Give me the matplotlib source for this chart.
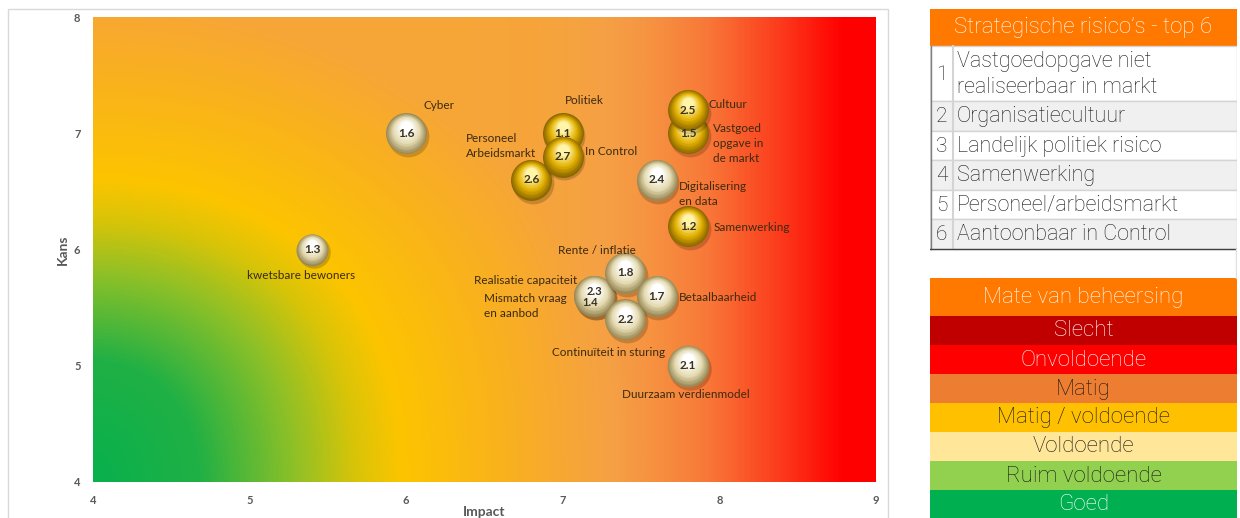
import matplotlib

matplotlib.use("Agg")
import matplotlib.pyplot as plt
import numpy as np
from matplotlib.colors import LinearSegmentedColormap, to_rgb
from matplotlib.patches import Rectangle
from matplotlib.transforms import offset_copy

# --- risk bubbles -----------------------------------------------------------
risk_ids = ["1.6", "1.3", "1.1", "2.6", "2.7", "1.5", "2.5", "2.4", "1.2",
            "2.3", "1.4", "1.8", "1.7", "2.2", "2.1"]
impact = [6.0, 5.4, 7.0, 6.8, 7.0, 7.8, 7.8, 7.6, 7.8, 7.2, 7.2, 7.4, 7.6, 7.4, 7.8]
kans = [7.0, 6.0, 7.0, 6.6, 6.8, 7.0, 7.2, 6.6, 6.2, 5.6, 5.6, 5.8, 5.6, 5.4, 5.0]
kind = ["cream", "cream", "gold", "gold", "gold", "gold", "gold", "cream", "gold",
        "cream", "cream", "cream", "cream", "cream", "cream"]
bubble_size = [870, 530, 870, 870, 870, 870, 870, 870, 870, 870, 870, 870, 870, 870, 900]

# label text and anchor (impact, kans, horizontal alignment)
labels = ["Cyber", "kwetsbare bewoners", "Politiek", "Personeel\nArbeidsmarkt", "In Control",
          "Cultuur", "Vastgoed\nopgave in\nde markt", "Digitalisering\nen data", "Samenwerking",
          "Rente / inflatie", "Realisatie capaciteit", "Mismatch vraag\nen aanbod",
          "Betaalbaarheid", "Continuïteit in sturing", "Duurzaam verdienmodel"]
label_x = [6.11, 5.33, 7.14, 6.38, 7.14, 7.93, 7.96, 7.74, 7.96, 7.22, 6.43, 6.50, 7.74, 6.93, 7.38]
label_y = [7.24, 5.78, 7.28, 6.89, 6.84, 7.25, 6.91, 6.48, 6.19, 5.99, 5.73, 5.51, 5.59, 5.11, 4.75]
label_ha = ["left", "center", "center", "left", "left", "left", "left", "left", "left",
            "center", "left", "left", "left", "left", "left"]

# --- side tables ------------------------------------------------------------
top_title = "Strategische risico’s - top 6"
top_rows = ["Vastgoedopgave niet\nrealiseerbaar in markt", "Organisatiecultuur",
            "Landelijk politiek risico", "Samenwerking", "Personeel/arbeidsmarkt",
            "Aantoonbaar in Control"]
scale_title = "Mate van beheersing"
scale_rows = ["Slecht", "Onvoldoende", "Matig", "Matig / voldoende", "Voldoende",
              "Ruim voldoende", "Goed"]
scale_colors = ["#c00000", "#ff0000", "#ed7d31", "#ffc000", "#ffe699", "#92d050", "#00b050"]
scale_text = ["white", "white", "#1a1a1a", "#1a1a1a", "#1a1a1a", "#1a1a1a", "white"]

ORANGE = "#ff7800"
LABEL_FONT = ["Lato", "DejaVu Sans"]
TABLE_FONT = ["Roboto", "DejaVu Sans"]

PALETTES = {
    "gold": ("#8c6800", "#e2b000", "#fff4a8"),
    "cream": ("#9a8a58", "#e4dab0", "#ffffff"),
}


def blend(c1, c2, t):
    a, b = np.array(to_rgb(c1)), np.array(to_rgb(c2))
    return tuple(a + (b - a) * min(t, 1.0))


def background(ax):
    xs = np.linspace(4, 9, 500)
    ys = np.linspace(4, 8, 400)
    X, Y = np.meshgrid(xs, ys)
    radial = 1.1 * np.sqrt(((X - 4) / 2.2) ** 2 + ((Y - 4) / 2.6) ** 2)
    radial = np.minimum(radial, 1.75)
    horiz = np.interp(X, [4, 6.0, 6.5, 7.0, 7.5, 8.0, 8.4, 8.8, 9],
                      [0, 1.0, 1.3, 1.65, 1.95, 2.35, 2.7, 3.0, 3.0])
    k = 6.0
    v = np.log(np.exp(k * radial) + np.exp(k * horiz)) / k
    v = np.clip(v, 0, 3) / 3.0
    stops = [(0.0, "#00b050"), (0.45, "#20b045"), (0.75, "#8cc028"), (0.95, "#d8c408"),
             (1.1, "#fdc400"), (1.5, "#f9b020"), (1.9, "#f5a045"), (2.3, "#f87838"),
             (2.7, "#fc3a1c"), (3.0, "#ff0000")]
    cmap = LinearSegmentedColormap.from_list("risk", [(p / 3.0, c) for p, c in stops])
    ax.imshow(cmap(v), extent=(4, 9, 4, 8), origin="lower", aspect="auto",
              interpolation="bilinear", zorder=0)


def sphere(ax, fig, x, y, size, palette, z):
    edge, mid, light = PALETTES[palette]
    r = np.sqrt(size) / 2
    ax.scatter([x], [y], s=size * 1.04, color="#000000", alpha=0.18, lw=0, zorder=z,
               transform=offset_copy(ax.transData, fig=fig, x=1.2, y=-2.0, units="points"))
    n = 14
    for i in range(n):
        t = i / (n - 1)
        f = 1 - 0.72 * t
        col = blend(edge, mid, t * 2.2) if t < 0.45 else blend(mid, light, (t - 0.45) / 0.55)
        ax.scatter([x], [y], s=size * f * f, color=col, lw=0, zorder=z,
                   transform=offset_copy(ax.transData, fig=fig, x=0, y=(1 - f) * r * 0.45,
                                         units="points"))


fig = plt.figure(figsize=(12.4, 5.18), dpi=100)
fig.patch.set_facecolor("white")

# faint frame around the chart object
fig.patches.append(Rectangle((8 / 1240, -0.1), 880 / 1240, 1.1 - 9 / 518, transform=fig.transFigure,
                             fill=False, edgecolor="#d9d9d9", lw=1))

ax = fig.add_axes([93 / 1240, 1 - 482 / 518, 783 / 1240, 465 / 518])
background(ax)
ax.set_xlim(4, 9)
ax.set_ylim(4, 8)
ax.set_xticks([4, 5, 6, 7, 8, 9])
ax.set_yticks([4, 5, 6, 7, 8])
for side in ax.spines.values():
    side.set_visible(False)
ax.tick_params(length=0, labelsize=8, labelcolor="#595959", pad=9)
for lab in ax.get_xticklabels() + ax.get_yticklabels():
    lab.set_fontfamily(LABEL_FONT)
    lab.set_fontweight("bold")
ax.set_xlabel("Impact", fontsize=10, fontweight="bold", color="#595959", family=LABEL_FONT, labelpad=0)
ax.set_ylabel("Kans", fontsize=10, fontweight="bold", color="#595959", family=LABEL_FONT, labelpad=4)

for i, (rid, x, y, s, kd) in enumerate(zip(risk_ids, impact, kans, bubble_size, kind)):
    sphere(ax, fig, x, y, s, kd, z=3 + i)
    if rid == "2.3":
        ax.annotate(rid, (x, y), xytext=(0, 3.5), textcoords="offset points", ha="center", va="center",
                    fontsize=8, fontweight="bold", color="#3a3220", family=LABEL_FONT, zorder=40)
    elif rid == "1.4":
        ax.annotate(rid, (x, y), xytext=(-3, -4.5), textcoords="offset points", ha="center", va="center",
                    fontsize=8, fontweight="bold", color="#3a3220", family=LABEL_FONT, zorder=40)
    else:
        ax.text(x, y, rid, ha="center", va="center", fontsize=8.5, fontweight="bold",
                color="#3a3220", family=LABEL_FONT, zorder=40)

for text, x, y, ha in zip(labels, label_x, label_y, label_ha):
    ax.text(x, y, text, ha=ha, va="center", fontsize=8.5, color="#3b2a10", family=LABEL_FONT,
            linespacing=1.45, zorder=50)

# --- tables on the right (pixel coordinates) ----------------------------------
tx0, tx1 = 930, 1237
tab = fig.add_axes([tx0 / 1240, 0, (tx1 - tx0) / 1240, 1])
tab.set_xlim(tx0, tx1)
tab.set_ylim(518, 0)
tab.axis("off")

tab.add_patch(Rectangle((tx0, 9), tx1 - tx0, 37, color=ORANGE, lw=0))
tab.text((tx0 + tx1) / 2, 28, top_title, ha="center", va="center", color="white",
         fontsize=16, family=TABLE_FONT, fontweight="light")

row_edges = [46, 101, 130.5, 160, 189.5, 219, 249]
for i, text in enumerate(top_rows):
    y0, y1 = row_edges[i], row_edges[i + 1]
    tab.add_patch(Rectangle((tx0, y0), tx1 - tx0, y1 - y0,
                            facecolor="white" if i % 2 == 0 else "#f0f0f0",
                            edgecolor="#d4d4d4", lw=1))
    tab.text(941.5, (y0 + y1) / 2 + 1, str(i + 1), ha="center", va="center", fontsize=15,
             color="#1a1a1a", family=TABLE_FONT, fontweight="light")
    tab.text(957, (y0 + y1) / 2 + 1, text, ha="left", va="center", fontsize=15.5, color="#1a1a1a",
             family=TABLE_FONT, fontweight="light", linespacing=1.3)
tab.plot([953, 953], [46, 249], color="#d4d4d4", lw=1.5)
tab.plot([tx0 + 0.5, tx0 + 0.5], [46, 249], color="#7f7f7f", lw=1)
tab.plot([tx0, tx1], [249, 249], color="#404040", lw=1)
tab.plot([tx1 - 1, tx1 - 1], [249, 278], color="#e0e0e0", lw=1)

tab.add_patch(Rectangle((tx0, 278), tx1 - tx0, 38, color=ORANGE, lw=0))
tab.text((tx0 + tx1) / 2, 297, scale_title, ha="center", va="center", color="white",
         fontsize=16, family=TABLE_FONT, fontweight="light")
for i, (text, col, tcol) in enumerate(zip(scale_rows, scale_colors, scale_text)):
    y0 = 316 + i * 29
    tab.add_patch(Rectangle((tx0, y0), tx1 - tx0, 29, color=col, lw=0))
    tab.text((tx0 + tx1) / 2, y0 + 15, text, ha="center", va="center", color=tcol,
             fontsize=16, family=TABLE_FONT, fontweight="light")

fig.savefig("out.png", dpi=100)
